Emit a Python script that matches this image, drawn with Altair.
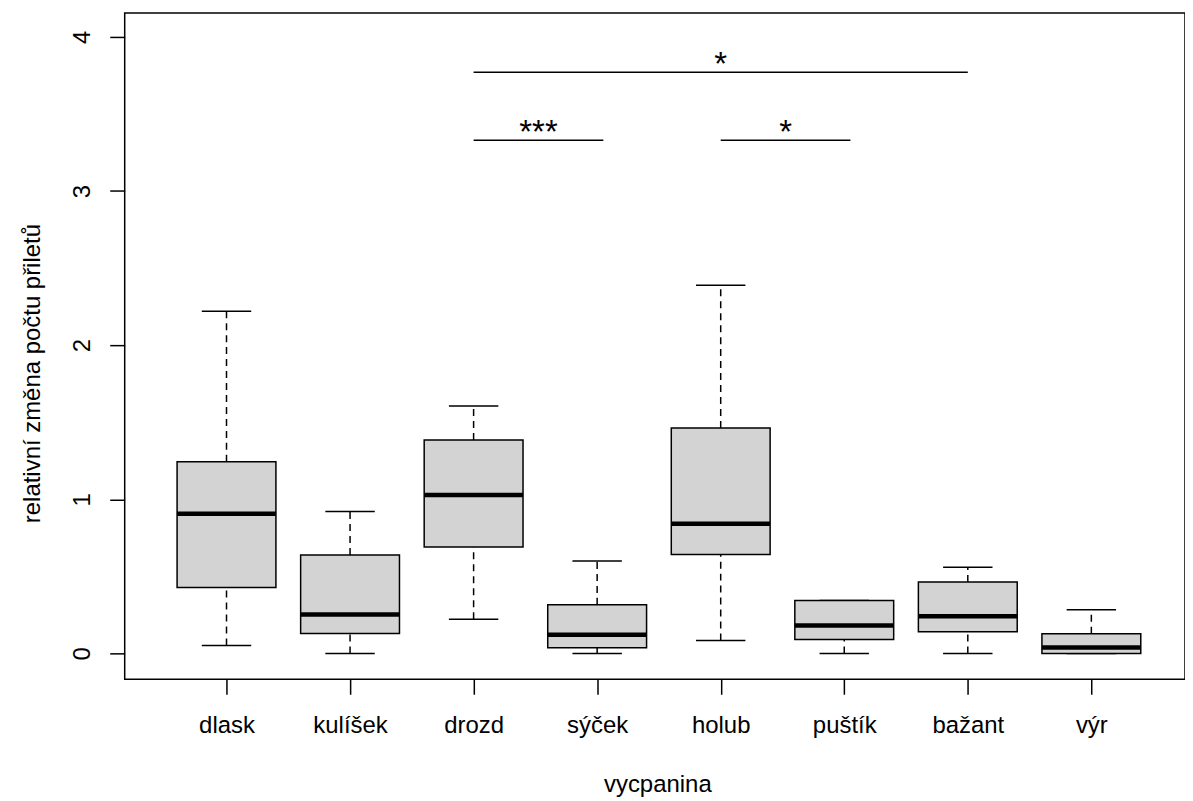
import json
import altair as alt
import pandas as pd

categories = ["dlask", "kulíšek", "drozd", "sýček", "holub", "puštík", "bažant", "výr"]
lower = [0.052, 0.0, 0.222, 0.0, 0.084, 0.0, 0.0, 0.0]
q1 = [0.427, 0.129, 0.691, 0.037, 0.641, 0.091, 0.140, 0.0]
median = [0.906, 0.252, 1.027, 0.121, 0.841, 0.181, 0.241, 0.039]
q3 = [1.243, 0.639, 1.385, 0.315, 1.463, 0.343, 0.464, 0.128]
upper = [2.220, 0.921, 1.605, 0.600, 2.388, 0.343, 0.559, 0.283]

sig_from = [3, 3, 5]
sig_to = [7, 4.05, 6.05]
sig_y = [3.77, 3.33, 3.33]
sig_label = ["*", "***", "*"]

y_ticks = [0, 1, 2, 3, 4]

df = pd.DataFrame({
    "idx": list(range(1, len(categories) + 1)),
    "cat": categories,
    "lower": lower,
    "q1": q1,
    "median": median,
    "q3": q3,
    "upper": upper,
})
sig = pd.DataFrame({"x1": sig_from, "x2": sig_to, "y": sig_y, "label": sig_label})

FONT = "Liberation Sans"
label_expr = json.dumps(categories, ensure_ascii=False) + "[datum.value - 1]"

xscale = alt.Scale(domain=[0.176, 8.758], nice=False, zero=False)
yscale = alt.Scale(domain=[-0.168, 4.155], nice=False, zero=False)

xaxis = alt.Axis(values=list(range(1, len(categories) + 1)), labelExpr=label_expr,
                 title="vycpanina", grid=False, domain=False,
                 labelBaseline="alphabetic", labelPadding=38,
                 titleX=534, titleY=112, titleBaseline="alphabetic", titleAlign="center")
yaxis = alt.Axis(values=y_ticks, title="relativní změna počtu přiletů", grid=False, domain=False,
                 labelAngle=-90, labelAlign="center", labelBaseline="alphabetic", labelPadding=20,
                 titleAngle=270, titleX=-85, titleY=361, titleBaseline="alphabetic",
                 titleAlign="center")

base = alt.Chart(df).transform_calculate(
    x_lo="datum.idx - 0.4", x_hi="datum.idx + 0.4",
    c_lo="datum.idx - 0.2", c_hi="datum.idx + 0.2",
)

def X(field):
    return alt.X(f"{field}:Q", scale=xscale, axis=xaxis)

def Y(field):
    return alt.Y(f"{field}:Q", scale=yscale, axis=yaxis)

whisk_up = base.mark_rule(color="black", strokeWidth=1.5, strokeDash=[7, 5]).encode(
    x=X("idx"), y=Y("q3"), y2="upper:Q")
whisk_lo = base.mark_rule(color="black", strokeWidth=1.5, strokeDash=[7, 5]).encode(
    x=X("idx"), y=Y("lower"), y2="q1:Q")
cap_up = base.mark_rule(color="black", strokeWidth=1.5).encode(
    x=X("c_lo"), x2="c_hi:Q", y=Y("upper"))
cap_lo = base.mark_rule(color="black", strokeWidth=1.5).encode(
    x=X("c_lo"), x2="c_hi:Q", y=Y("lower"))
box = base.mark_rect(fill="#d3d3d3", stroke="black", strokeWidth=1.5).encode(
    x=X("x_lo"), x2="x_hi:Q", y=Y("q1"), y2="q3:Q")
med = base.mark_rule(color="black", strokeWidth=4.5).encode(
    x=X("x_lo"), x2="x_hi:Q", y=Y("median"))

sbase = alt.Chart(sig).transform_calculate(mid="(datum.x1 + datum.x2) / 2")
brackets = sbase.mark_rule(color="black", strokeWidth=1.5).encode(
    x=X("x1"), x2="x2:Q", y=Y("y"))
stars = sbase.mark_text(font=FONT, fontSize=33, color="black", baseline="alphabetic",
                        align="center", dy=3).encode(
    x=X("mid"), y=Y("y"), text="label:N")

chart = alt.layer(whisk_up, whisk_lo, cap_up, cap_lo, box, med, brackets, stars).properties(
    width=1063, height=668,
    autosize=alt.AutoSizeParams(type="none"),
    padding={"left": 117, "top": 4, "right": 0, "bottom": 120},
).configure(font=FONT).configure_view(
    stroke="black", strokeWidth=1.5
).configure_axis(
    labelFont=FONT, titleFont=FONT, labelFontSize=24, titleFontSize=24,
    labelColor="black", titleColor="black", titleFontWeight="normal",
    tickColor="black", tickWidth=1.5, tickSize=15,
)

chart.save("out.html", embed_options={"renderer": "svg", "actions": False})
